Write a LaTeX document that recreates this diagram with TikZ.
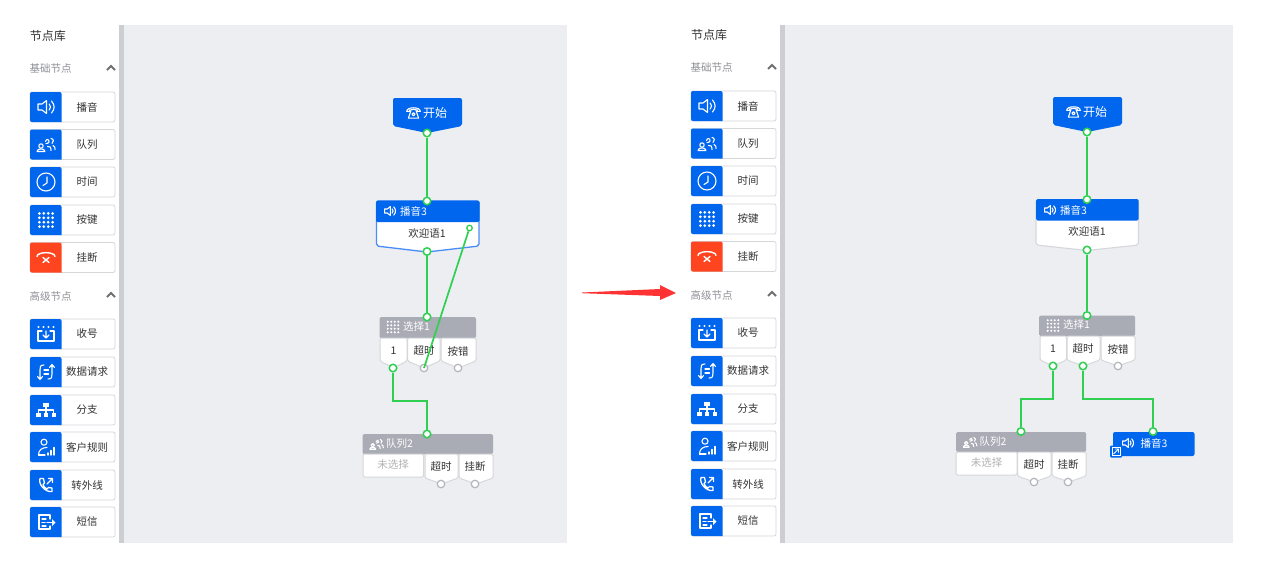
\documentclass[tikz,border=0pt]{standalone}
\usepackage{fontspec}
\setmainfont{Noto Sans CJK SC}
\usetikzlibrary{arrows.meta,calc}
\definecolor{bluefill}{HTML}{0066EE}
\definecolor{selblue}{HTML}{4A8CF5}
\definecolor{canvasbg}{HTML}{ECEEF2}
\definecolor{sidebar}{HTML}{CDCED1}
\definecolor{headgray}{HTML}{A9ABB5}
\definecolor{edgegray}{HTML}{D6D7DB}
\definecolor{portgray}{HTML}{B4B5BA}
\definecolor{wire}{HTML}{2FD052}
\definecolor{hangred}{HTML}{FF4420}
\definecolor{arrowred}{HTML}{FF3333}
\definecolor{txt}{HTML}{333333}
\definecolor{mutetxt}{HTML}{8E9096}
\tikzset{
  lbl/.style={font=\fontsize{10.5}{12}\selectfont,text=txt,inner sep=0pt},
  ttl/.style={font=\fontsize{12}{14}\selectfont,text=txt,inner sep=0pt},
  sect/.style={font=\fontsize{10.5}{12}\selectfont,text=mutetxt,inner sep=0pt},
  wlbl/.style={font=\fontsize{10.5}{12}\selectfont,text=white,inner sep=0pt},
  mutelbl/.style={font=\fontsize{10.5}{12}\selectfont,text=black!30,inner sep=0pt},
  startlbl/.style={font=\fontsize{12}{14}\selectfont,text=white,inner sep=0pt},
  itembox/.style={draw=edgegray,fill=white,rounded corners=2pt,minimum width=85pt,minimum height=30pt,inner sep=0pt,line width=.8pt},
  porton/.style={circle,draw=wire,fill=white,line width=1.5pt,minimum size=7.5pt,inner sep=0pt},
  portsmall/.style={circle,draw=wire,fill=white,line width=1.3pt,minimum size=5.5pt,inner sep=0pt},
  portoff/.style={circle,draw=portgray,fill=white,line width=1.2pt,minimum size=7.5pt,inner sep=0pt},
  wireline/.style={draw=wire,line width=2pt},
  cellshape/.style={fill=white,draw=edgegray,line width=1pt,rounded corners=1.5pt},
  ic/.style={draw=white,line width=1.1pt,line cap=round,line join=round},
}
% Icons, centred on the origin
\newcommand\icSpeaker{%
  \draw[ic] (-8,-3)--(-4,-3)--(0.5,-6.5)--(0.5,6.5)--(-4,3)--(-8,3)--cycle;
  \draw[ic] (3.2,-3) .. controls (5,-1.5) and (5,1.5) .. (3.2,3);
  \draw[ic] (5.5,-6) .. controls (9,-2) and (9,2) .. (5.5,6);}
\newcommand\icQueue{%
  \draw[ic] (-5,1.5) circle (2.2);
  \draw[ic] (-9,7) .. controls (-9,3.5) and (-1,3.5) .. (-1,7) -- cycle;
  \draw[ic] (-0.5,-3) .. controls (0,-6) and (3.5,-5.5) .. (3,-2.5) .. controls (2.5,-1) and (1,-1) .. (0,-1);
  \draw[ic] (1.5,2) .. controls (4,1) and (5,3) .. (5,6);
  \draw[ic] (5,-6) .. controls (8,-6) and (8,-2) .. (6,-1);
  \draw[ic] (7,1) .. controls (9,2) and (9,3) .. (9,5);}
\newcommand\icClock{%
  \draw[ic] (0,0) circle (9);
  \draw[ic] (1,-5)--(1,1)--(-3,3.5);}
\newcommand\icDots{%
  \foreach \a in {-6.6,-2.2,2.2,6.6}{\foreach \b in {-6.6,-2.2,2.2,6.6}{\fill[white] (\a,\b) circle (1.5);}}}
\newcommand\icHang{%
  \draw[ic,line width=1.4pt] (-9,-1) -- (-8,-3) .. controls (-4,-5.5) and (4,-5.5) .. (8,-3) -- (9,-1);
  \draw[ic,line width=1.4pt] (-3,0)--(3,5) (3,0)--(-3,5);}
\newcommand\icDown{%
  \foreach \a in {-7.5,-2.5,2.5,7.5}{\fill[white] (\a,-7) circle (1.1);}
  \draw[ic] (-4,-3)--(-8,-3)--(-8,7)--(8,7)--(8,-3)--(4,-3);
  \draw[ic] (0,-3)--(0,3.5) (-3,1)--(0,4)--(3,1);}
\newcommand\icData{%
  \draw[ic] (-2,-7) .. controls (-6,-7) and (-6,-5) .. (-6,-2) -- (-6,7) (-8.5,4.5)--(-6,7.5)--(-3.5,4.5);
  \draw[ic] (2,7) .. controls (6,7) and (6,5) .. (6,2) -- (6,-7) (3.5,-4.5)--(6,-7.5)--(8.5,-4.5);
  \draw[ic] (-2,-2)--(2.5,-2) (-2,2)--(2.5,2);}
\newcommand\icTree{%
  \fill[white] (-3,-7.5) rectangle (3,-3);
  \fill[white] (-10,3) rectangle (-5.5,6.5);
  \fill[white] (-2.2,3) rectangle (2.2,6.5);
  \fill[white] (5.5,3) rectangle (10,6.5);
  \draw[ic] (0,-3)--(0,3) (-7.7,3)--(-7.7,0)--(7.7,0)--(7.7,3);}
\newcommand\icRule{%
  \draw[ic] (-2,-4.8) circle (3);
  \draw[ic] (-7.5,8) .. controls (-7.5,3) and (-4,0.5) .. (1,0.5);
  \draw[ic] (-7.5,8)--(-1,8);
  \draw[ic,line width=1.4pt] (2,8)--(2,6) (5,8)--(5,3.5) (8,8)--(8,0.5);}
\newcommand\icTransfer{%
  \draw[ic,line width=1.3pt] (-6,-6.5) .. controls (-8,-1) and (-1,7.5) .. (6,6.5) -- (6,3) -- (2.5,2.5) -- (1,4) .. controls (-1,3) and (-2.5,1.5) .. (-3,-0.5) -- (-1.5,-2) -- (-2.5,-6.5) -- cycle;
  \draw[ic,line width=1.3pt] (1,-1)--(6.5,-6.5) (2.5,-6.5)--(6.5,-6.5)--(6.5,-2.5);}
\newcommand\icSms{%
  \draw[ic] (4,-3)--(4,-7)--(-7,-7)--(-7,7)--(4,7)--(4,4);
  \draw[ic] (-4,-3)--(0,-3) (-4,0.5)--(-1,0.5) (-4,4)--(0,4);
  \draw[ic,line width=1.3pt] (1,0.5)--(7,0.5);
  \fill[white] (6,-3)--(9.5,0.5)--(6,4)--cycle;}
\newcommand\icPhone{%
  \draw[ic] (-8,-2) .. controls (-8,-7.5) and (8,-7.5) .. (8,-2) -- (4.5,-2) -- (4.5,-3.5) .. controls (2,-4.5) and (-2,-4.5) .. (-4.5,-3.5) -- (-4.5,-2) -- cycle;
  \draw[ic] (-3,-3) -- (-6,6) -- (6,6) -- (3,-3);
  \draw[ic] (0,1.5) circle (1.8);}
% One entry of the node library
\newcommand\libitem[5]{% id, y centre, fill colour, icon, text
  \node[itembox] (item#1) at (72.5,#2) {};
  \fill[#3] ($(item#1.north west)+(.4,.4)$) [rounded corners=2pt] -- ($(item#1.north west)+(32,.4)$) [sharp corners] -- ($(item#1.south west)+(32,-.4)$) [rounded corners=2pt] -- ($(item#1.south west)+(.4,-.4)$) -- cycle;
  \begin{scope}[shift={(46,#2)}]#4\end{scope}
  \node[lbl] (text#1) at (87,#2) {#5};}
% Node library panel
\newcommand\library[3]{% prefix, dx, dy
  \begin{scope}[shift={(#2,#3)},name prefix=#1]
    \node[ttl] (title) at (48,36) {节点库};
    \node[sect] (basic) at (50.5,69) {基础节点};
    \node[sect] (adv) at (50.5,296) {高级节点};
    \draw[draw=txt!70,line width=1.8pt] (107,70)--(111,66)--(115,70);
    \draw[draw=txt!70,line width=1.8pt] (107,297)--(111,293)--(115,297);
    \libitem{a}{107}{bluefill}{\icSpeaker}{播音}
    \libitem{b}{144.5}{bluefill}{\icQueue}{队列}
    \libitem{c}{182}{bluefill}{\icClock}{时间}
    \libitem{d}{220}{bluefill}{\icDots}{按键}
    \libitem{e}{257.5}{hangred}{\icHang}{挂断}
    \libitem{f}{334}{bluefill}{\icDown}{收号}
    \libitem{g}{372}{bluefill}{\icData}{数据请求}
    \libitem{h}{410}{bluefill}{\icTree}{分支}
    \libitem{i}{447}{bluefill}{\icRule}{客户规则}
    \libitem{j}{485}{bluefill}{\icTransfer}{转外线}
    \libitem{k}{522}{bluefill}{\icSms}{短信}
  \end{scope}}
% Pointed cell: x1, x2, top, shoulder, tip
\newcommand\pentcell[5]{%
  \path[cellshape] (#1,#3) -- (#1,#4) -- ({(#1+#2)/2},#5) -- (#2,#4) -- (#2,#3) -- cycle;}
\begin{document}
\begin{tikzpicture}[x=1pt,y=-1pt]
\useasboundingbox (0,0) rectangle (1267,571);
\fill[white] (0,0) rectangle (1267,571);
% Canvases
\fill[canvasbg] (124,25) rectangle (567,543);
\fill[sidebar] (119,25) rectangle (124,543);
\fill[canvasbg] (785,25) rectangle (1233,543);
\fill[sidebar] (780,25) rectangle (785,543);
\library{l-}{0}{0}
\library{r-}{661}{-1}
% ---- Left flow ----
\fill[bluefill,rounded corners=2pt] (393,98) -- (462,98) -- (462,126) -- (427,133) -- (393,126) -- cycle;
\begin{scope}[shift={(413.5,113)},scale=.85]\icPhone\end{scope}
\node[startlbl] (lstart) at (435,113) {开始};
\path[fill=white,draw=selblue,line width=1.3pt,rounded corners=2pt] (376.5,201) -- (479,201) -- (479,246) -- (427,252) -- (376.5,246) -- cycle;
\fill[bluefill,rounded corners=1.5pt] (376,200.5) -- (479.5,200.5) -- (479.5,222) -- (376,222) -- cycle;
\begin{scope}[shift={(390,211)},scale=.68]\icSpeaker\end{scope}
\node[wlbl,anchor=west] (lplayt) at (400,211) {播音3};
\node[lbl] (lplayb) at (427,234) {欢迎语1};
\fill[headgray,rounded corners=1.5pt] (379.5,317) -- (476,317) -- (476,338) -- (379.5,338) -- cycle;
\begin{scope}[shift={(393,327)},scale=.8]\icDots\end{scope}
\node[wlbl,anchor=west] (lselt) at (403,327) {选择1};
\pentcell{380}{407}{338}{361}{368}
\pentcell{407.5}{440}{338}{361}{368}
\pentcell{441}{476}{338}{361}{368}
\node[lbl] (lc1) at (393.5,351) {1};
\node[lbl] (lc2) at (424,351) {超时};
\node[lbl] (lc3) at (458,351) {按错};
\fill[headgray,rounded corners=1.5pt] (362.5,434) -- (493,434) -- (493,454) -- (362.5,454) -- cycle;
\begin{scope}[shift={(376.5,444)},scale=.75]\icQueue\end{scope}
\node[wlbl,anchor=west] (lqt) at (386,444) {队列2};
\path[cellshape] (363,454) -- (363,477) -- (423.5,477) -- (423.5,454) -- cycle;
\pentcell{425}{458}{454}{478}{484}
\pentcell{459}{493}{454}{478}{484}
\node[mutelbl] (lq0) at (393,465) {未选择};
\node[lbl] (lq1) at (441,467) {超时};
\node[lbl] (lq2) at (475,467) {挂断};
% left ports
\node[porton] (ls) at (427,133) {};
\node[porton] (lpin) at (427,201) {};
\node[porton] (lpout) at (427,251.5) {};
\node[portsmall] (lpx) at (469.5,228) {};
\node[porton] (lsin) at (427,317) {};
\node[porton] (ls1) at (393,368) {};
\node[portoff] (ls2) at (424,368) {};
\node[portoff] (ls3) at (458,368) {};
\node[porton] (lqin) at (427,434) {};
\node[portoff] (lq3) at (441,484) {};
\node[portoff] (lq4) at (475,484) {};
\coordinate (lbend) at (0,401);
\draw[wireline] (ls) -- (lpin);
\draw[wireline] (lpout) -- (lsin);
\draw[wireline,line width=1.7pt] (lpx) -- (ls2.center);
\draw[wireline] (ls1.south) -- (ls1.south |- lbend) -| (lqin.north);
% ---- Arrow ----
\fill[arrowred] (582,292.5) -- (660,289) -- (660,285) -- (676,293) -- (660,300) -- (660,296) -- (582,293.2) -- cycle;
% ---- Right flow ----
\fill[bluefill,rounded corners=2pt] (1053,97) -- (1122,97) -- (1122,125) -- (1087,132) -- (1053,125) -- cycle;
\begin{scope}[shift={(1073.5,112)},scale=.85]\icPhone\end{scope}
\node[startlbl] (rstart) at (1095,112) {开始};
\path[fill=white,draw=edgegray,line width=1.1pt,rounded corners=2pt] (1036,200) -- (1138.5,200) -- (1138.5,245) -- (1087,250.5) -- (1036,245) -- cycle;
\fill[bluefill,rounded corners=1.5pt] (1036,199) -- (1138.5,199) -- (1138.5,220.5) -- (1036,220.5) -- cycle;
\begin{scope}[shift={(1050,210)},scale=.68]\icSpeaker\end{scope}
\node[wlbl,anchor=west] (rplayt) at (1060,210) {播音3};
\node[lbl] (rplayb) at (1087,232) {欢迎语1};
\fill[headgray,rounded corners=1.5pt] (1039,315.5) -- (1135,315.5) -- (1135,336) -- (1039,336) -- cycle;
\begin{scope}[shift={(1053,325.5)},scale=.8]\icDots\end{scope}
\node[wlbl,anchor=west] (rselt) at (1063,325) {选择1};
\pentcell{1040}{1066.5}{336}{360}{366}
\pentcell{1067}{1100}{336}{360}{366}
\pentcell{1101}{1135}{336}{360}{366}
\node[lbl] (rc1) at (1053,349) {1};
\node[lbl] (rc2) at (1083,349) {超时};
\node[lbl] (rc3) at (1118,349) {按错};
\fill[headgray,rounded corners=1.5pt] (956,432) -- (1086,432) -- (1086,452) -- (956,452) -- cycle;
\begin{scope}[shift={(970,442)},scale=.75]\icQueue\end{scope}
\node[wlbl,anchor=west] (rqt) at (979.5,442) {队列2};
\path[cellshape] (956,452) -- (956,475) -- (1017,475) -- (1017,452) -- cycle;
\pentcell{1017.5}{1051}{452}{476}{482}
\pentcell{1052}{1086}{452}{476}{482}
\node[mutelbl] (rq0) at (986.5,463) {未选择};
\node[lbl] (rq1) at (1034,465) {超时};
\node[lbl] (rq2) at (1068,465) {挂断};
\fill[bluefill,rounded corners=2pt] (1113,432) rectangle (1194.5,456);
\begin{scope}[shift={(1128,443)},scale=.68]\icSpeaker\end{scope}
\node[wlbl,anchor=west] (rpl) at (1140.5,443) {播音3};
\fill[bluefill,rounded corners=1pt] (1110,445.5) rectangle (1122,457.5);
\draw[white,line width=.8pt] (1112,447.5) rectangle (1120,455.5);
\draw[white,line width=.9pt] (1113.5,454) -- (1118.5,449) (1115,449) -- (1118.5,449) -- (1118.5,452.5);
% right ports
\node[porton] (rs) at (1087,132) {};
\node[porton] (rpin) at (1087,199.5) {};
\node[porton] (rpout) at (1087,250) {};
\node[porton] (rsin) at (1087,315.5) {};
\node[porton] (rs1) at (1053,366) {};
\node[porton] (rs2) at (1083,366) {};
\node[portoff] (rs3) at (1118,366) {};
\node[porton] (rqin) at (1021,431.5) {};
\node[portoff] (rq3) at (1034,482) {};
\node[portoff] (rq4) at (1068,482) {};
\node[porton] (rpk) at (1153,431.5) {};
\coordinate (rbend) at (0,399);
\draw[wireline] (rs) -- (rpin);
\draw[wireline] (rpout) -- (rsin);
\draw[wireline] (rs1.south) -- (rs1.south |- rbend) -| (rqin.north);
\draw[wireline] (rs2.south) -- (rs2.south |- rbend) -| (rpk.north);
\end{tikzpicture}
\end{document}
